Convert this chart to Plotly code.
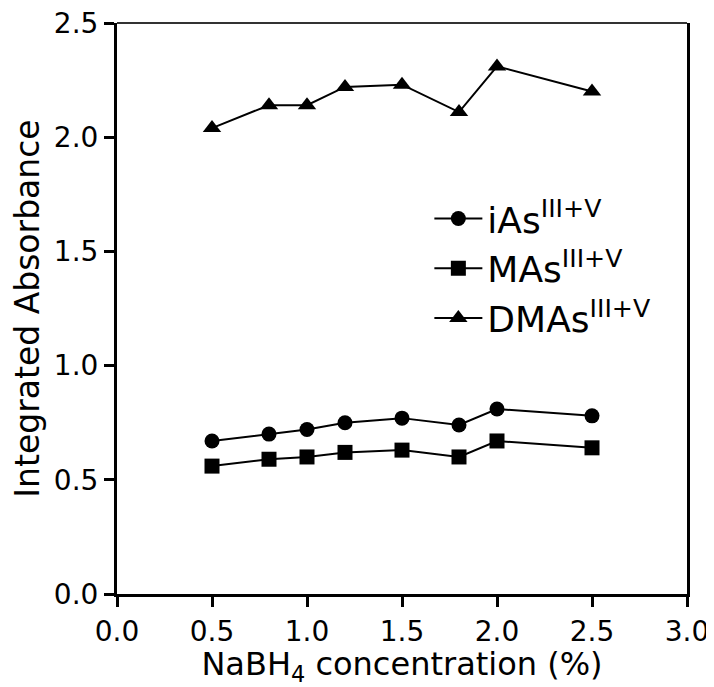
import plotly.graph_objects as go

conc = [0.5, 0.8, 1.0, 1.2, 1.5, 1.8, 2.0, 2.5]
ias = [0.67, 0.70, 0.72, 0.75, 0.77, 0.74, 0.81, 0.78]
mas = [0.56, 0.59, 0.60, 0.62, 0.63, 0.60, 0.67, 0.64]
dmas = [2.04, 2.14, 2.14, 2.22, 2.23, 2.11, 2.31, 2.20]
names = ["iAs<sup>III+V</sup>", "MAs<sup>III+V</sup>", "DMAs<sup>III+V</sup>"]
x_ticks = [0.0, 0.5, 1.0, 1.5, 2.0, 2.5, 3.0]
y_ticks = [0.0, 0.5, 1.0, 1.5, 2.0, 2.5]

FONT = "DejaVu Sans"

fig = go.Figure()
for ys, nm, sym, sz in [(ias, names[0], "circle", 15),
                        (mas, names[1], "square", 15),
                        (dmas, names[2], "triangle-up", 16)]:
    fig.add_trace(go.Scatter(
        x=conc, y=ys, name=nm, mode="lines+markers",
        line=dict(color="black", width=2),
        marker=dict(symbol=sym, size=sz, color="black"),
    ))

axis_common = dict(
    showgrid=False, zeroline=False, showline=True, linecolor="black",
    linewidth=3, ticks="outside", ticklen=10, tickwidth=3, tickcolor="black",
    tickfont=dict(family=FONT, size=28, color="black"),
    ticklabeloverflow="allow", automargin=False,
)

# page body has an 8px margin, so the figure is shifted by 8px
fig.update_layout(
    width=706, height=679,
    margin=dict(l=109, r=27, t=15, b=93),
    paper_bgcolor="white", plot_bgcolor="white",
    font=dict(family=FONT, color="black"),
    xaxis=dict(range=[0, 3.0], tickvals=x_ticks, ticktext=[f"{v:.1f}" for v in x_ticks],
               title=dict(text="NaBH<sub>4</sub> concentration (%)", font=dict(family=FONT, size=32), standoff=8),
               **axis_common),
    yaxis=dict(range=[0, 2.5], tickvals=y_ticks, ticktext=[f"{v:.1f}" for v in y_ticks],
               mirror=True,
               title=dict(text="Integrated Absorbance", font=dict(family=FONT, size=33), standoff=8),
               **axis_common),
    legend=dict(x=0.548, y=0.71, xanchor="left", yanchor="top",
                font=dict(family=FONT, size=36, color="black"),
                bgcolor="rgba(0,0,0,0)", itemwidth=48),
    showlegend=True,
    shapes=[dict(type="line", xref="paper", yref="paper", x0=0, x1=1, y0=1, y1=1,
                 line=dict(color="#333333", width=2))],
)

fig.write_html("out.html")
